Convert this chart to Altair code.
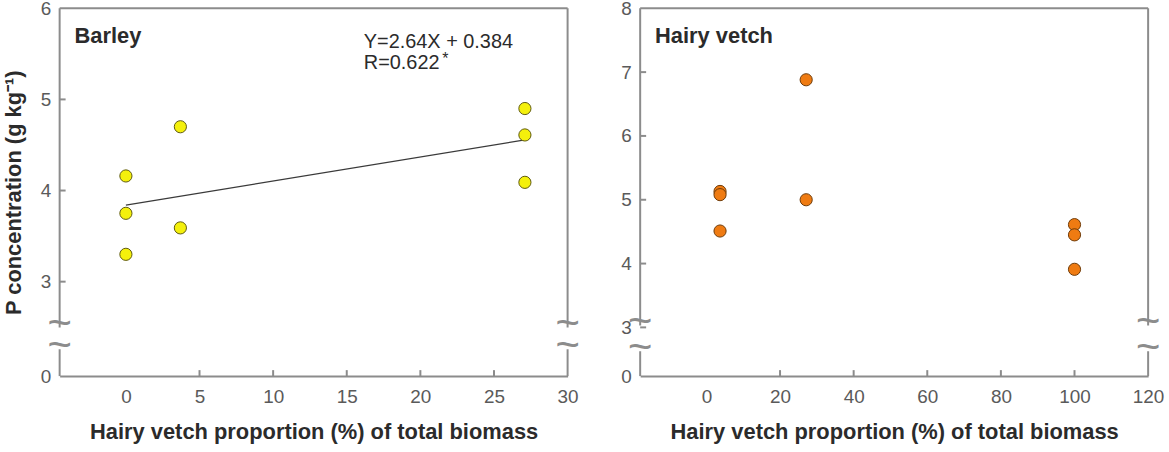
import altair as alt
import pandas as pd

# Barley P concentration vs hairy vetch share of the mixture
barley_x = [0, 0, 0, 3.7, 3.7, 27.1, 27.1, 27.1]
barley_y = [4.16, 3.75, 3.30, 4.70, 3.59, 4.90, 4.61, 4.09]

# Hairy vetch P concentration vs hairy vetch share of the mixture
vetch_x = [3.7, 3.7, 3.7, 27.1, 27.1, 100, 100, 100]
vetch_y = [5.13, 5.08, 4.51, 6.88, 5.00, 4.61, 4.45, 3.91]

# Barley regression (Y=2.64X + 0.384, drawn in g kg-1 against %)
fit_slope = 0.0264
fit_intercept = 3.84
fit_x = [0, 27.1]

left_xticks = [0, 5, 10, 15, 20, 25, 30]
left_yticks = [0, 3, 4, 5, 6]
right_xticks = [0, 20, 40, 60, 80, 100, 120]
right_yticks = [0, 3, 4, 5, 6, 7, 8]

W, H = 511, 370
FONT = "Liberation Sans"
FRAME = "#8c8c8c"
TXT = "#2b2b2b"
LBL = "#5a5a5a"
XTITLE = "Hairy vetch proportion (%) of total biomass"
YTITLE = "P concentration (g kg\u207b\u00b9)"

one = pd.DataFrame({"k": [0]})


def panel(px, py, fill, stroke, xdomain, xticks, ydomain, yrange, yticks,
          ytitle, name, breaks, extra=None):
    x_axis = alt.Axis(values=xticks, title=XTITLE, ticks=False, tickSize=0,
                      domain=True, domainColor=FRAME, domainWidth=2,
                      grid=False, labelFlush=False, labelOverlap=False,
                      labelFontSize=19, labelColor=LBL, labelPadding=12,
                      titleFontSize=22, titleFontWeight="bold",
                      titleColor=TXT, titlePadding=15)
    y_axis_kw = dict(values=yticks, ticks=False, tickSize=0, domain=False,
                     grid=False, labelFontSize=19, labelColor=LBL,
                     labelPadding=9, labelOverlap=False)
    if ytitle:
        y_axis = alt.Axis(title=ytitle, titleFontSize=22,
                          titleFontWeight="bold", titleColor=TXT,
                          titlePadding=15, **y_axis_kw)
    else:
        y_axis = alt.Axis(title=None, **y_axis_kw)

    xs = alt.Scale(domain=xdomain, nice=False, zero=False)
    ys = alt.Scale(domain=ydomain, range=yrange, nice=False, zero=False)
    xe = alt.X("x:Q", scale=xs, axis=x_axis)
    ye = alt.Y("y:Q", scale=ys, axis=y_axis)

    pts = alt.Chart(pd.DataFrame({"x": px, "y": py})).mark_point(
        shape="circle", filled=True, size=150, fill=fill, stroke=stroke,
        strokeWidth=1, opacity=1
    ).encode(x=xe, y=ye)

    # inward ticks on the bottom and left frame
    xt = alt.Chart(pd.DataFrame({"x": xticks[1:-1]})).mark_rule(
        color=FRAME, strokeWidth=2
    ).encode(x=xe, y=alt.value(H), y2=alt.value(H - 6))
    yt = alt.Chart(pd.DataFrame({"y": yticks[1:-1]})).mark_rule(
        color=FRAME, strokeWidth=2
    ).encode(y=ye, x=alt.value(0), x2=alt.value(6))

    up, low = breaks
    frame = []
    # top edge
    frame.append(alt.Chart(one).mark_rule(color=FRAME, strokeWidth=2).encode(
        x=alt.value(0), x2=alt.value(W), y=alt.value(0)))
    for xv in (0, W):
        frame.append(alt.Chart(one).mark_rule(color=FRAME, strokeWidth=2).encode(
            x=alt.value(xv), y=alt.value(0), y2=alt.value(up)))
        frame.append(alt.Chart(one).mark_rule(color=FRAME, strokeWidth=2).encode(
            x=alt.value(xv), y=alt.value(low), y2=alt.value(H)))
        # axis-break squiggles
        for yv in (up, low):
            frame.append(alt.Chart(one).mark_text(
                text="~", fontSize=42, font=FONT, color=FRAME,
                align="center", baseline="middle"
            ).encode(x=alt.value(xv), y=alt.value(yv - 3)))

    lab = alt.Chart(one).mark_text(
        text=name, fontSize=22, fontWeight="bold", font=FONT, color=TXT,
        align="left", baseline="middle"
    ).encode(x=alt.value(15), y=alt.value(28))

    layers = frame + [xt, yt]
    if extra is not None:
        layers += extra(xe, ye)
    layers += [pts, lab]
    return alt.layer(*layers).properties(width=W, height=H)


def barley_fit(xe, ye):
    fit = pd.DataFrame({"x": fit_x,
                        "y": [fit_slope * v + fit_intercept for v in fit_x]})
    line = alt.Chart(fit).mark_line(color="#3a3a3a", strokeWidth=1.2).encode(
        x=xe, y=ye)
    eq = alt.Chart(one).mark_text(
        text="Y=2.64X + 0.384", fontSize=20, font=FONT, color=TXT,
        align="left", baseline="middle"
    ).encode(x=alt.value(306), y=alt.value(34))
    r = alt.Chart(one).mark_text(
        text="R=0.622", fontSize=20, font=FONT, color=TXT,
        align="left", baseline="middle"
    ).encode(x=alt.value(306), y=alt.value(55))
    star = alt.Chart(one).mark_text(
        text="*", fontSize=16, font=FONT, color=TXT,
        align="left", baseline="middle"
    ).encode(x=alt.value(385), y=alt.value(51))
    return [line, eq, r, star]


left = panel(barley_x, barley_y, "#f4f00c", "#5f5a10",
             [-4.5, 30], left_xticks, [0, 3, 6], [H, 275, 0], left_yticks,
             YTITLE, "Barley", (321, 343), extra=barley_fit)
right = panel(vetch_x, vetch_y, "#ef7b12", "#6e3a08",
              [-18, 120], right_xticks, [0, 3, 8], [H, 321, 0], right_yticks,
              None, "Hairy vetch", (319, 345))

chart = alt.hconcat(left, right, spacing=73, bounds="flush").properties(
    padding={"left": 2, "top": -2, "right": 5, "bottom": 5}
).configure(font=FONT).configure_view(stroke=None)

chart.save("out.html", embed_options={"renderer": "svg", "actions": False})
